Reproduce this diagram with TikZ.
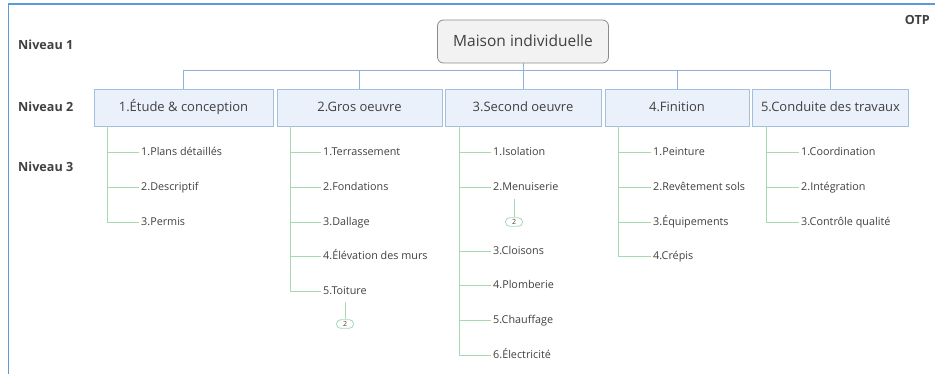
\documentclass[tikz,border=0pt]{standalone}
\usepackage{fontspec}
\setmainfont{Open Sans}
\definecolor{txt}{HTML}{404040}
\definecolor{frameblue}{HTML}{5B9BD5}
\definecolor{busblue}{HTML}{8FB0D8}
\definecolor{boxfill}{HTML}{EAF1FA}
\definecolor{boxline}{HTML}{A3BFDF}
\definecolor{rootfill}{HTML}{F2F2F2}
\definecolor{rootline}{HTML}{8C8C8C}
\definecolor{leafgreen}{HTML}{A6D9B2}
\begin{document}
\begin{tikzpicture}[x=1pt,y=-1pt,
  frame/.style={draw=frameblue,line width=1.6pt},
  levellabel/.style={font=\fontsize{12.6}{14}\selectfont\bfseries,text=txt,anchor=west,inner sep=0pt,
    text height=9pt,text depth=0pt},
  rootbox/.style={draw=rootline,fill=rootfill,rounded corners=6pt,line width=0.8pt,
    minimum width=171pt,minimum height=43pt,font=\fontsize{15.5}{18}\selectfont,text=txt,
    text height=12.5pt,text depth=2pt},
  wbox/.style={draw=boxline,fill=boxfill,line width=0.8pt,minimum height=37pt,
    font=\fontsize{13}{15}\selectfont,text=txt,inner sep=0pt,text height=11pt,text depth=2pt},
  bus/.style={draw=busblue,line width=0.8pt},
  leaf/.style={anchor=west,inner sep=2pt,font=\fontsize{10.8}{12}\selectfont,text=txt,
    text height=9pt,text depth=1.5pt},
  leafline/.style={draw=leafgreen,line width=0.8pt},
  badge/.style={draw=leafgreen,rounded corners=4pt,line width=0.8pt,minimum width=17pt,
    minimum height=8.5pt,inner sep=0pt,font=\fontsize{7}{8}\selectfont,text=txt}]
\useasboundingbox (0,0) rectangle (935,374);
% outer frame
\draw[frame] (8.5,374) -- (8.5,4) -- (935,4);

% level captions
\node[levellabel] (n1) at (18,45) {Niveau 1};
\node[levellabel] (n2) at (18,107) {Niveau 2};
\node[levellabel] (n3) at (18,167) {Niveau 3};
\node[levellabel,anchor=east] (otp) at (930,20) {OTP};

% root
\node[rootbox] (root) at (523,41.5) {Maison individuelle};

% work packages
\node[wbox,minimum width=179pt] (b1) at (183.5,107.5) {1.Étude \& conception};
\node[wbox,minimum width=165pt] (b2) at (359.5,107.5) {2.Gros oeuvre};
\node[wbox,minimum width=156pt] (b3) at (523,107.5) {3.Second oeuvre};
\node[wbox,minimum width=144pt] (b4) at (677,107.5) {4.Finition};
\node[wbox,minimum width=156pt] (b5) at (830.5,107.5) {5.Conduite des travaux};

% bus between root and packages
\coordinate (bus) at (523,70);
\draw[bus] (root.south) -- (bus);
\draw[bus] (b1.north) -- (b1.north |- bus) -- (b5.north |- bus) -- (b5.north);
\foreach \b in {b2,b3,b4} \draw[bus] (\b.north) -- (\b.north |- bus);

% leaves of package 1
\node[leaf] (l11) at (139,152) {1.Plans détaillés};
\node[leaf] (l12) at (139,187) {2.Descriptif};
\node[leaf] (l13) at (139,222) {3.Permis};
% leaves of package 2
\node[leaf] (l21) at (321,152) {1.Terrassement};
\node[leaf] (l22) at (321,187) {2.Fondations};
\node[leaf] (l23) at (321,222) {3.Dallage};
\node[leaf] (l24) at (321,256) {4.Élévation des murs};
\node[leaf] (l25) at (321,291) {5.Toiture};
\node[badge] (g25) at (345,324) {2};
% leaves of package 3
\node[leaf] (l31) at (491,152) {1.Isolation};
\node[leaf] (l32) at (491,187) {2.Menuiserie};
\node[badge] (g32) at (514,222) {2};
\node[leaf] (l33) at (491,251) {3.Cloisons};
\node[leaf] (l34) at (491,285) {4.Plomberie};
\node[leaf] (l35) at (491,320) {5.Chauffage};
\node[leaf] (l36) at (491,355) {6.Électricité};
% leaves of package 4
\node[leaf] (l41) at (651,152) {1.Peinture};
\node[leaf] (l42) at (651,187) {2.Revêtement sols};
\node[leaf] (l43) at (651,222) {3.Équipements};
\node[leaf] (l44) at (651,256) {4.Crépis};
% leaves of package 5
\node[leaf] (l51) at (799,152) {1.Coordination};
\node[leaf] (l52) at (799,187) {2.Intégration};
\node[leaf] (l53) at (799,222) {3.Contrôle qualité};

% green trees
\draw[leafline] (b1.south -| 107,0) |- (l13.west);
\foreach \l in {l11,l12} \draw[leafline] (\l.west) -- (\l.west -| 107,0);
\draw[leafline] (b2.south -| 290,0) |- (l25.west);
\foreach \l in {l21,l22,l23,l24} \draw[leafline] (\l.west) -- (\l.west -| 290,0);
\draw[leafline] (b3.south -| 459,0) |- (l36.west);
\foreach \l in {l31,l32,l33,l34,l35} \draw[leafline] (\l.west) -- (\l.west -| 459,0);
\draw[leafline] (b4.south -| 618,0) |- (l44.west);
\foreach \l in {l41,l42,l43} \draw[leafline] (\l.west) -- (\l.west -| 618,0);
\draw[leafline] (b5.south -| 766,0) |- (l53.west);
\foreach \l in {l51,l52} \draw[leafline] (\l.west) -- (\l.west -| 766,0);

% collapsed-branch markers
\draw[leafline] (g25.north) -- (g25.north |- 0,302);
\draw[leafline] (g32.north) -- (g32.north |- 0,199);
\end{tikzpicture}
\end{document}
